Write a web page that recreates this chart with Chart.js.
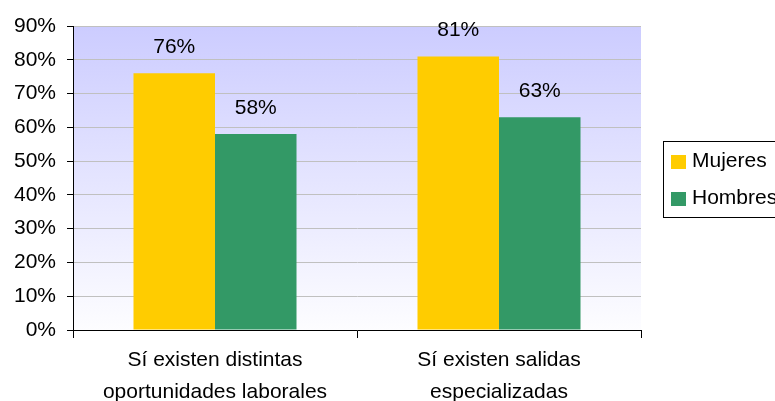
<!DOCTYPE html>
<html>
<head>
<meta charset="utf-8">
<script src="https://cdn.jsdelivr.net/npm/chart.js@4.4.1/dist/chart.umd.min.js"></script>
<style>
  html, body { margin: 0; padding: 0; background: #fff; }
  #wrap { width: 775px; height: 401px; }
</style>
</head>
<body>
<div id="wrap"><canvas id="chart" width="775" height="401"></canvas></div>
<script>
// chart data
const categories = [
    ['Sí existen distintas', 'oportunidades laborales'],
    ['Sí existen salidas', 'especializadas']
];
const seriesNames = ['Mujeres', 'Hombres'];
const mujeres = [76, 81];
const hombres = [58, 63];
const seriesColors = ['#FFCC00', '#339966'];
const yTicks = [0, 10, 20, 30, 40, 50, 60, 70, 80, 90];

const FONT = 'Arial, "Liberation Sans", sans-serif';
const FSIZE = 21;

// gradient background behind the plot area
const plotBackground = {
    id: 'plotBackground',
    beforeDraw(chart) {
        const { ctx, chartArea: a } = chart;
        const g = ctx.createLinearGradient(0, a.top, 0, a.bottom);
        g.addColorStop(0, '#CCCCFF');
        g.addColorStop(1, '#FDFDFF');
        ctx.save();
        ctx.fillStyle = g;
        ctx.fillRect(a.left, a.top, a.right - a.left, a.bottom - a.top);
        ctx.restore();
    }
};

// percentage labels above each bar
const valueLabels = {
    id: 'valueLabels',
    afterDatasetsDraw(chart) {
        const ctx = chart.ctx;
        ctx.save();
        ctx.font = FSIZE + 'px ' + FONT;
        ctx.fillStyle = '#000';
        ctx.textAlign = 'center';
        ctx.textBaseline = 'middle';
        chart.data.datasets.forEach((ds, i) => {
            chart.getDatasetMeta(i).data.forEach((bar, j) => {
                ctx.fillText(ds.data[j] + '%', bar.x, bar.y - 26);
            });
        });
        ctx.restore();
    }
};

// boxed legend on the right
const boxLegend = {
    id: 'boxLegend',
    afterDraw(chart) {
        const ctx = chart.ctx;
        const x = 663.5, y = 141.5, w = 130, h = 76;
        ctx.save();
        ctx.fillStyle = '#fff';
        ctx.fillRect(x, y, w, h);
        ctx.strokeStyle = '#000';
        ctx.lineWidth = 1;
        ctx.strokeRect(x, y, w, h);
        ctx.font = FSIZE + 'px ' + FONT;
        ctx.textBaseline = 'middle';
        chart.data.datasets.forEach((ds, i) => {
            const cy = 161 + i * 37;
            ctx.fillStyle = ds.backgroundColor;
            ctx.fillRect(671, cy - 6, 15, 14);
            ctx.fillStyle = '#000';
            ctx.fillText(ds.label, 692, cy);
        });
        ctx.restore();
    }
};

const ctx = document.getElementById('chart').getContext('2d');
new Chart(ctx, {
    type: 'bar',
    data: {
        labels: categories,
        datasets: [
            { label: seriesNames[0], data: mujeres, backgroundColor: seriesColors[0] },
            { label: seriesNames[1], data: hombres, backgroundColor: seriesColors[1] }
        ]
    },
    options: {
        responsive: false,
        animation: false,
        layout: { padding: { top: 26, right: 134, left: 0, bottom: 0 } },
        datasets: {
            bar: { categoryPercentage: 0.574, barPercentage: 1.0 }
        },
        plugins: {
            legend: { display: false },
            tooltip: { enabled: false }
        },
        scales: {
            x: {
                grid: {
                    offset: true,
                    drawOnChartArea: false,
                    drawTicks: true,
                    tickLength: 8,
                    tickColor: '#000'
                },
                border: { color: '#000', width: 1 },
                ticks: {
                    color: '#000',
                    font: { family: FONT, size: FSIZE, lineHeight: 1.52 },
                    padding: 6,
                    maxRotation: 0
                },
                afterFit(scale) { scale.height = 71; }
            },
            y: {
                min: 0,
                max: 90,
                afterBuildTicks(scale) {
                    scale.ticks = yTicks.map(v => ({ value: v }));
                },
                grid: {
                    color: '#C0C0C0',
                    tickColor: '#000',
                    tickLength: 6
                },
                border: { color: '#000', width: 1 },
                ticks: {
                    color: '#000',
                    font: { family: FONT, size: FSIZE },
                    padding: 11,
                    callback: v => v + '%'
                },
                afterFit(scale) { scale.width = 73; }
            }
        }
    },
    plugins: [plotBackground, valueLabels, boxLegend]
});
</script>
</body>
</html>
